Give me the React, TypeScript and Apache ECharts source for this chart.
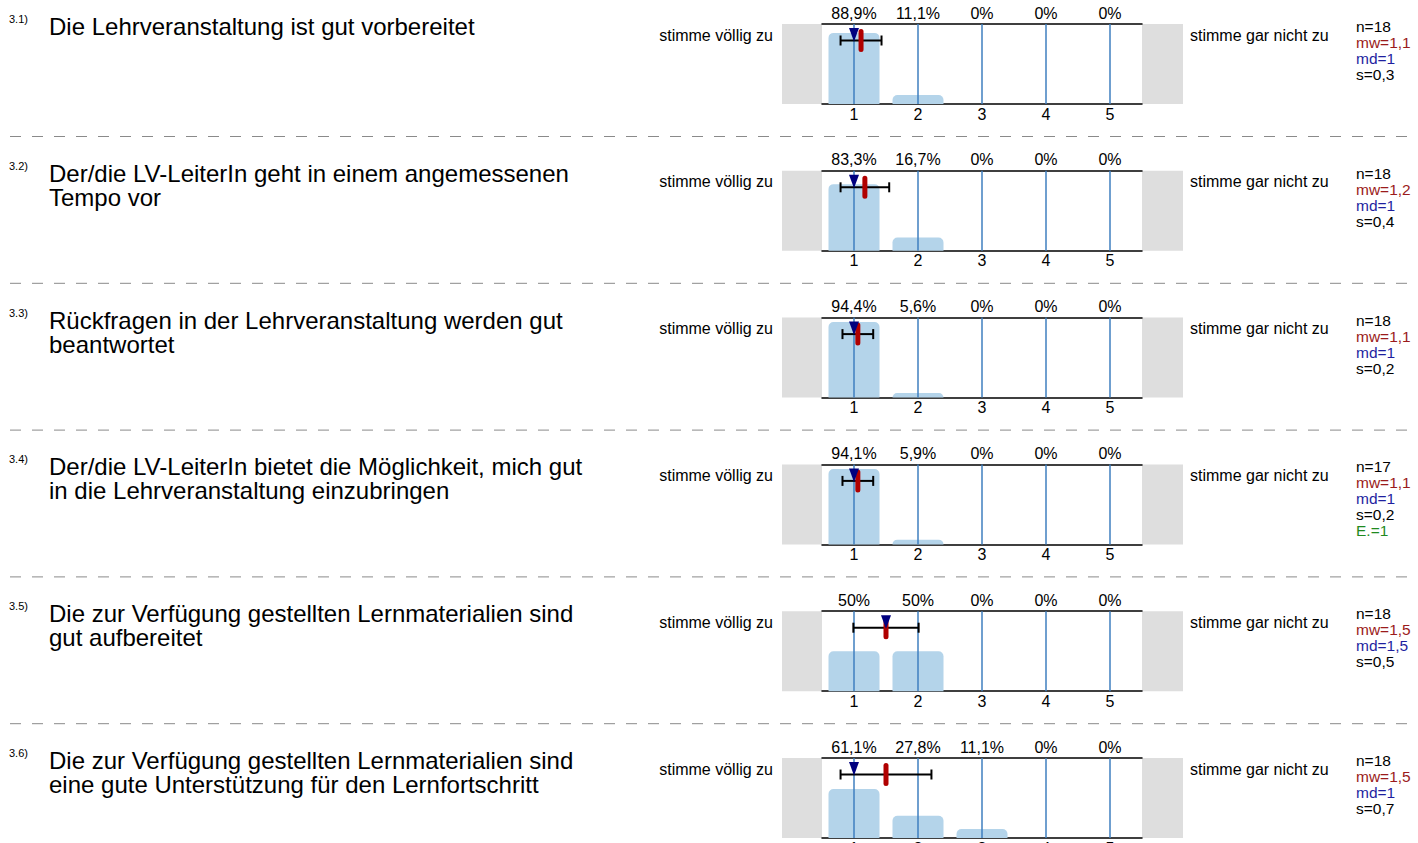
import React, { useEffect, useRef } from "react";
import * as echarts from "echarts";

const FONT = "'Liberation Sans', Arial, sans-serif";

const itemNumbers = ["3.1)", "3.2)", "3.3)", "3.4)", "3.5)", "3.6)"];
const itemTitles = [
  "Die Lehrveranstaltung ist gut vorbereitet",
  "Der/die LV-LeiterIn geht in einem angemessenen\nTempo vor",
  "Rückfragen in der Lehrveranstaltung werden gut\nbeantwortet",
  "Der/die LV-LeiterIn bietet die Möglichkeit, mich gut\nin die Lehrveranstaltung einzubringen",
  "Die zur Verfügung gestellten Lernmaterialien sind\ngut aufbereitet",
  "Die zur Verfügung gestellten Lernmaterialien sind\neine gute Unterstützung für den Lernfortschritt",
];
const scaleCategories = ["1", "2", "3", "4", "5"];
const leftPole = "stimme völlig zu";
const rightPole = "stimme gar nicht zu";

const pct1 = [88.9, 11.1, 0, 0, 0];
const pct2 = [83.3, 16.7, 0, 0, 0];
const pct3 = [94.4, 5.6, 0, 0, 0];
const pct4 = [94.1, 5.9, 0, 0, 0];
const pct5 = [50, 50, 0, 0, 0];
const pct6 = [61.1, 27.8, 11.1, 0, 0];
const percentages = [pct1, pct2, pct3, pct4, pct5, pct6];

const nValues = [18, 18, 18, 17, 18, 18];
const means = [1.11, 1.17, 1.06, 1.06, 1.5, 1.5];
const medians = [1, 1, 1, 1, 1.5, 1];
const sds = [0.32, 0.38, 0.24, 0.24, 0.51, 0.71];
const abstentions = [null, null, null, 1, null, null];

const fmtPct = (v: number) => String(v).replace(".", ",") + "%";
const fmt1 = (v: number) => {
  const s = v.toFixed(1);
  return (s.endsWith(".0") ? s.slice(0, -2) : s).replace(".", ",");
};

const ROW0 = 24;
const ROWSTEP = 146.8;
const GRID_LEFT = 822;
const GRID_W = 320;
const GRID_H = 80;

export default function App() {
  const ref = useRef<HTMLDivElement>(null);
  useEffect(() => {
    if (!ref.current) return;
    const chart = echarts.init(ref.current, undefined, { renderer: "svg" });
    const grids: any[] = [];
    const xAxes: any[] = [];
    const yAxes: any[] = [];
    const series: any[] = [];
    const graphics: any[] = [];

    percentages.forEach((pct, i) => {
      const top = ROW0 + i * ROWSTEP;
      grids.push({ left: GRID_LEFT, top, width: GRID_W, height: GRID_H, outerBoundsMode: "none", containLabel: false });
      xAxes.push({
        type: "category",
        gridIndex: i,
        position: "bottom",
        data: scaleCategories,
        axisLine: { lineStyle: { color: "#000", width: 1.5 } },
        axisTick: { show: false },
        axisLabel: { fontSize: 16, color: "#000", margin: 2, fontFamily: FONT },
        splitLine: { show: false },
      });
      xAxes.push({
        type: "category",
        gridIndex: i,
        position: "top",
        data: pct.map(fmtPct),
        axisLine: { lineStyle: { color: "#000", width: 1.5 } },
        axisTick: { show: false },
        axisLabel: { fontSize: 16, color: "#000", margin: 3, fontFamily: FONT },
        splitLine: { show: false },
      });
      xAxes.push({
        type: "value",
        gridIndex: i,
        min: 0.5,
        max: 5.5,
        show: false,
      });
      yAxes.push({ type: "value", gridIndex: i, min: 0, max: 100, show: false });

      series.push({
        type: "bar",
        xAxisIndex: 3 * i,
        yAxisIndex: i,
        data: pct,
        barWidth: 51,
        itemStyle: { color: "#b4d4ea", borderRadius: [5, 5, 0, 0] },
        z: 2,
      });
      series.push({
        type: "custom",
        xAxisIndex: 3 * i + 2,
        yAxisIndex: i,
        data: scaleCategories.map((c) => [Number(c), 0]),
        clip: false,
        z: 3,
        renderItem: (params: any, api: any) => {
          const v = api.value(0);
          const p0 = api.coord([v, 0]);
          const p1 = api.coord([v, 100]);
          return {
            type: "line",
            shape: { x1: p0[0], y1: p0[1], x2: p1[0], y2: p1[1] },
            style: { stroke: "#3f7fbf", lineWidth: 1.5 },
          };
        },
      });
      series.push({
        type: "custom",
        xAxisIndex: 3 * i + 2,
        yAxisIndex: i,
        data: [[means[i], medians[i], sds[i]]],
        clip: false,
        z: 4,
        renderItem: (params: any, api: any) => {
          const mean = api.value(0);
          const med = api.value(1);
          const sd = api.value(2);
          const t = api.coord([mean, 100])[1];
          const xm = api.coord([mean, 0])[0];
          const xl = api.coord([mean - sd, 0])[0];
          const xr = api.coord([mean + sd, 0])[0];
          const xd = api.coord([med, 0])[0];
          const ey = t + 16.5;
          const st = { stroke: "#000", lineWidth: 2 };
          return {
            type: "group",
            children: [
              { type: "line", shape: { x1: xl, y1: ey, x2: xr, y2: ey }, style: st },
              { type: "line", shape: { x1: xl, y1: ey - 5, x2: xl, y2: ey + 5 }, style: st },
              { type: "line", shape: { x1: xr, y1: ey - 5, x2: xr, y2: ey + 5 }, style: st },
              {
                type: "rect",
                shape: { x: xm - 2.5, y: t + 5, width: 5, height: 23, r: 2.5 },
                style: { fill: "#b00000" },
              },
              {
                type: "polygon",
                shape: { points: [[xd - 5, t + 4], [xd + 5, t + 4], [xd, t + 17.5]] },
                style: { fill: "#00007f" },
              },
            ],
          };
        },
      });

      // side grey boxes
      graphics.push({ type: "rect", shape: { x: 782, y: top, width: 40, height: GRID_H }, style: { fill: "#dedede" }, z: -1 });
      graphics.push({ type: "rect", shape: { x: 1142, y: top, width: 41, height: GRID_H }, style: { fill: "#dedede" }, z: -1 });
      // texts
      graphics.push({
        type: "text", x: 9, y: top - 5,
        style: { text: itemNumbers[i], fontSize: 11, fontFamily: FONT, fill: "#000", verticalAlign: "middle" },
      });
      graphics.push({
        type: "text", x: 49, y: top - 9.5,
        style: { text: itemTitles[i], fontSize: 24, lineHeight: 24, fontFamily: FONT, fill: "#000", verticalAlign: "top" },
      });
      graphics.push({
        type: "text", x: 773, y: top + 11,
        style: { text: leftPole, fontSize: 16, fontFamily: FONT, fill: "#000", align: "right", verticalAlign: "middle" },
      });
      graphics.push({
        type: "text", x: 1190, y: top + 11,
        style: { text: rightPole, fontSize: 16, fontFamily: FONT, fill: "#000", align: "left", verticalAlign: "middle" },
      });
      const stats: [string, string][] = [
        ["n=" + nValues[i], "#000"],
        ["mw=" + fmt1(means[i]), "#9b1b1b"],
        ["md=" + fmt1(medians[i]), "#1f1f9f"],
        ["s=" + fmt1(sds[i]), "#000"],
      ];
      if (abstentions[i] !== null) stats.push(["E.=" + abstentions[i], "#1f8a1f"]);
      stats.forEach(([t, c], k) => {
        graphics.push({
          type: "text", x: 1356, y: top + 2.5 + k * 16,
          style: { text: t, fontSize: 15.5, fontFamily: FONT, fill: c, verticalAlign: "middle" },
        });
      });
      if (i < percentages.length - 1) {
        graphics.push({
          type: "line",
          shape: { x1: 10, y1: top + 112.5, x2: 1418, y2: top + 112.5 },
          style: { stroke: "#8a8a8a", lineWidth: 1, lineDash: [11, 11] },
        });
      }
    });

    chart.setOption({
      animation: false,
      grid: grids,
      xAxis: xAxes,
      yAxis: yAxes,
      series,
      graphic: graphics,
    });
    return () => chart.dispose();
  }, []);
  return (
    <div
      ref={ref}
      style={{ position: "absolute", left: 0, top: 0, width: 1418, height: 843, background: "#fff" }}
    />
  );
}
